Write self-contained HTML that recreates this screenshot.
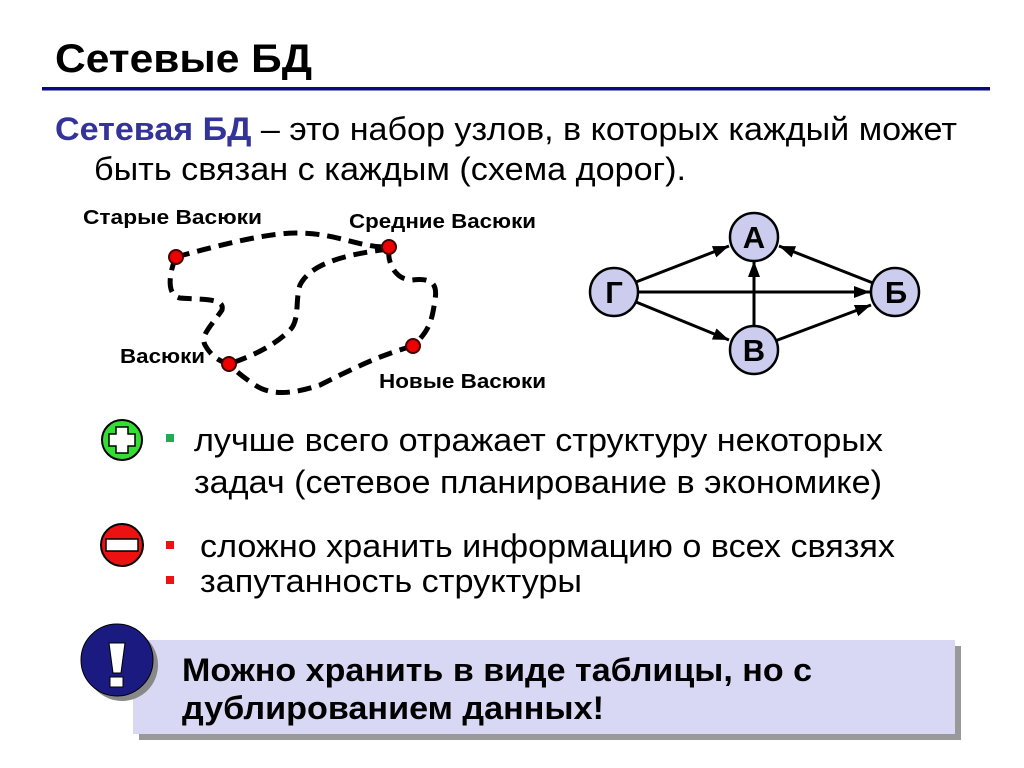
<!DOCTYPE html>
<html><head><meta charset="utf-8"><style>
html,body{margin:0;padding:0;background:#fff;}
svg{display:block;font-family:"Liberation Sans",Arial,sans-serif;}
</style></head><body>
<svg width="1024" height="768" viewBox="0 0 1024 768">
<defs>
<marker id="a2" viewBox="0 0 10 10" refX="10" refY="5" markerWidth="16" markerHeight="12" orient="auto" markerUnits="userSpaceOnUse" preserveAspectRatio="none"><path d="M0,0 L10,5 L0,10 z" fill="#000"/></marker>
</defs>
<text x="55" y="72" font-size="40" font-weight="bold" textLength="257" lengthAdjust="spacingAndGlyphs">Сетевые БД</text>
<rect x="42" y="87" width="948" height="3.5" fill="#0a0a80"/>
<text x="55" y="140" font-size="32" textLength="902" lengthAdjust="spacingAndGlyphs"><tspan fill="#333399" font-weight="bold">Сетевая БД</tspan> – это набор узлов, в которых каждый может</text>
<text x="94" y="180" font-size="32" textLength="592" lengthAdjust="spacingAndGlyphs">быть связан с каждым (схема дорог).</text>

<g fill="none" stroke="#000" stroke-width="5" stroke-dasharray="14,8">
<path d="M176,257 C220,245 270,232 300,233 C340,234 360,248 390,247"/>
<path d="M176,257 C170,270 165,295 180,298 C205,300 225,298 222,310 C212,325 200,335 205,345 C212,358 222,362 229,364"/>
<path d="M389,249 C340,255 310,265 300,285 C295,300 300,320 290,330 C275,345 255,355 229,364"/>
<path d="M389,249 C387,262 395,280 412,280 C430,278 438,282 435,300 C432,320 430,330 413,346"/>
<path d="M413,346 C380,355 350,370 320,385 C290,395 270,395 255,385 C240,375 235,370 229,364"/>
</g>
<g fill="#e00" stroke="#400" stroke-width="2">
<circle cx="176" cy="257" r="7"/><circle cx="389" cy="247" r="7"/><circle cx="229" cy="364" r="7"/><circle cx="413" cy="346" r="7"/>
</g>
<g font-size="20" font-weight="bold">
<text x="83" y="224" textLength="179" lengthAdjust="spacingAndGlyphs">Старые Васюки</text>
<text x="349" y="228" textLength="187" lengthAdjust="spacingAndGlyphs">Средние Васюки</text>
<text x="120" y="363" textLength="85" lengthAdjust="spacingAndGlyphs">Васюки</text>
<text x="379" y="388" textLength="167" lengthAdjust="spacingAndGlyphs">Новые Васюки</text>
</g>

<g stroke="#000" stroke-width="3" fill="none" marker-end="url(#a2)">
<line x1="636" y1="282" x2="729" y2="246"/>
<line x1="638" y1="292" x2="870" y2="292"/>
<line x1="636" y1="302" x2="729" y2="340"/>
<line x1="754" y1="327" x2="754" y2="261"/>
<line x1="775" y1="341" x2="871" y2="305"/>
<line x1="873" y1="283" x2="779" y2="246"/>
</g>
<g fill="#ccccee" stroke="#000" stroke-width="2.5">
<circle cx="754" cy="237" r="24"/><circle cx="614" cy="292" r="24"/><circle cx="895" cy="292" r="24"/><circle cx="754" cy="350" r="24"/>
</g>
<g font-size="31" font-weight="bold" text-anchor="middle">
<text x="754" y="248">А</text><text x="614" y="303">Г</text><text x="896" y="303">Б</text><text x="754" y="361">В</text>
</g>

<circle cx="122" cy="440" r="20" fill="#33dd33" stroke="#000" stroke-width="2"/>
<path d="M116,427 h12 v7 h7 v12 h-7 v7 h-12 v-7 h-7 v-12 h7 z" fill="#fff" stroke="#000" stroke-width="1.5"/>
<circle cx="122" cy="545" r="21" fill="#ee1111" stroke="#000" stroke-width="2"/>
<rect x="106" y="539" width="32" height="12" fill="#fff" stroke="#000" stroke-width="1.5"/>
<rect x="166" y="434" width="8" height="8" fill="#22aa55"/>
<rect x="166" y="541" width="8" height="8" fill="#ee1111"/>
<rect x="166" y="576" width="8" height="8" fill="#ee1111"/>
<g font-size="32">
<text x="194" y="451" textLength="689" lengthAdjust="spacingAndGlyphs">лучше всего отражает структуру некоторых</text>
<text x="194" y="493" textLength="688" lengthAdjust="spacingAndGlyphs">задач (сетевое планирование в экономике)</text>
<text x="200" y="557" textLength="695" lengthAdjust="spacingAndGlyphs">сложно хранить информацию о всех связях</text>
<text x="200" y="592" textLength="382" lengthAdjust="spacingAndGlyphs">запутанность структуры</text>
</g>

<rect x="139" y="646" width="822" height="94" fill="#999"/>
<rect x="133" y="640" width="822" height="94" fill="#d8d8f4"/>
<circle cx="122" cy="665" r="36" fill="#888"/>
<circle cx="117" cy="660" r="36" fill="#1a1a80" stroke="#000" stroke-width="1"/>
<path d="M109,643 h16 l-4,30 h-8 z" fill="#fff" stroke="#000" stroke-width="1"/>
<rect x="110" y="677" width="13" height="10" fill="#fff" stroke="#000" stroke-width="1"/>
<g font-size="32" font-weight="bold">
<text x="182" y="681" textLength="630" lengthAdjust="spacingAndGlyphs">Можно хранить в виде таблицы, но с</text>
<text x="182" y="719" textLength="422" lengthAdjust="spacingAndGlyphs">дублированием данных!</text>
</g>
</svg>
</body></html>
